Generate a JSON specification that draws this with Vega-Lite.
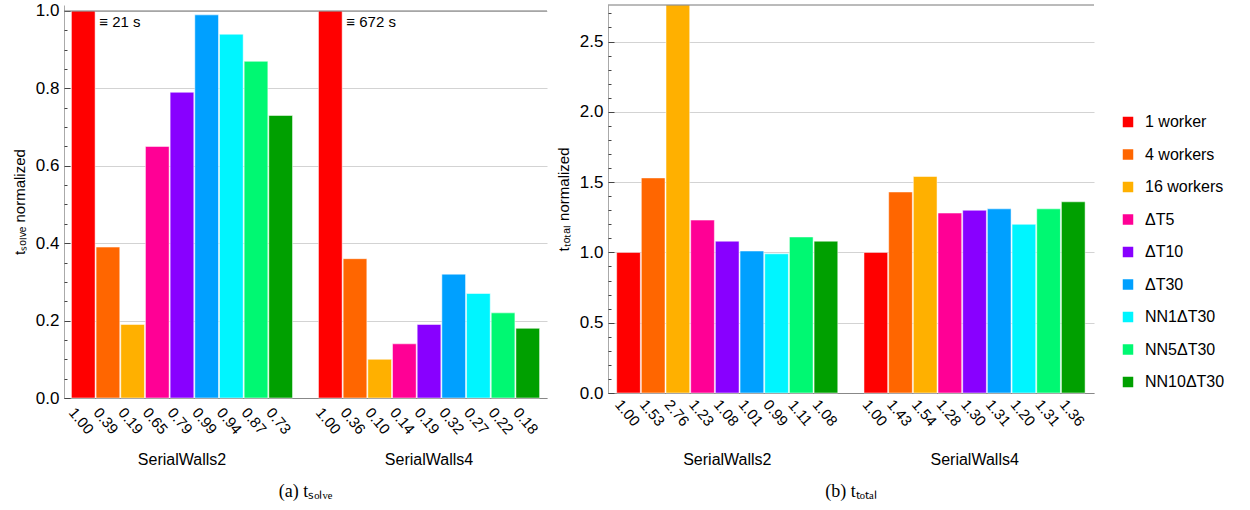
{
  "$schema": "https://vega.github.io/schema/vega-lite/v6.json",
  "background": "white",
  "padding": {"left": 12, "top": 1, "right": 0, "bottom": 0},
  "config": {
    "font": "Liberation Sans",
    "view": {"stroke": null},
    "concat": {"spacing": 8},
    "axis": {"labelColor": "black", "titleColor": "black", "titleFontWeight": "normal"}
  },
  "resolve": {"scale": {"color": "shared"}},
  "hconcat": [
    {
      "width": 483,
      "height": 393,
      "data": {"values": [
        {"case": "SerialWalls2", "config": "1 worker", "t": 1.00},
        {"case": "SerialWalls2", "config": "4 workers", "t": 0.39},
        {"case": "SerialWalls2", "config": "16 workers", "t": 0.19},
        {"case": "SerialWalls2", "config": "ΔT5", "t": 0.65},
        {"case": "SerialWalls2", "config": "ΔT10", "t": 0.79},
        {"case": "SerialWalls2", "config": "ΔT30", "t": 0.99},
        {"case": "SerialWalls2", "config": "NN1ΔT30", "t": 0.94},
        {"case": "SerialWalls2", "config": "NN5ΔT30", "t": 0.87},
        {"case": "SerialWalls2", "config": "NN10ΔT30", "t": 0.73},
        {"case": "SerialWalls4", "config": "1 worker", "t": 1.00},
        {"case": "SerialWalls4", "config": "4 workers", "t": 0.36},
        {"case": "SerialWalls4", "config": "16 workers", "t": 0.10},
        {"case": "SerialWalls4", "config": "ΔT5", "t": 0.14},
        {"case": "SerialWalls4", "config": "ΔT10", "t": 0.19},
        {"case": "SerialWalls4", "config": "ΔT30", "t": 0.32},
        {"case": "SerialWalls4", "config": "NN1ΔT30", "t": 0.27},
        {"case": "SerialWalls4", "config": "NN5ΔT30", "t": 0.22},
        {"case": "SerialWalls4", "config": "NN10ΔT30", "t": 0.18}
      ]},
      "title": {"text": "(a) t\u209b\u2092\u2097\u1d65\u2091", "orient": "bottom", "anchor": "middle", "font": "Liberation Serif", "fontSize": 18, "fontWeight": "normal", "offset": 16, "color": "black"},
      "layer": [
        {
          "layer": [
            {
              "mark": {"type": "bar", "stroke": "white", "strokeWidth": 1, "strokeOpacity": 0.5},
              "encoding": {
                "x": {"field": "case", "type": "nominal", "title": null,
                  "scale": {"paddingInner": 0.105, "paddingOuter": 0.03},
                  "axis": {"labelAngle": 0, "ticks": false, "domainColor": "#888", "labelPadding": 53, "labelFontSize": 16, "labelBaseline": "top"}},
                "xOffset": {"field": "config", "type": "nominal",
                  "scale": {"domain": ["1 worker", "4 workers", "16 workers", "ΔT5", "ΔT10", "ΔT30", "NN1ΔT30", "NN5ΔT30", "NN10ΔT30"], "paddingInner": 0.04, "paddingOuter": 0}},
                "y": {"field": "t", "type": "quantitative",
                  "scale": {"domain": [0, 1.0155], "nice": false, "zero": true},
                  "axis": {"values": [0, 0.2, 0.4, 0.6, 0.8, 1.0], "format": ".1f", "grid": true, "gridColor": "#d3d3d3", "tickSize": -6, "tickColor": "#444", "domainColor": "#aaa", "labelPadding": 11, "labelFontSize": 17, "title": "t\u209b\u2092\u2097\u1d65\u2091 normalized", "titleFontSize": 15, "titlePadding": 7.5}},
                "color": {"field": "config", "type": "nominal",
                  "scale": {"domain": ["1 worker", "4 workers", "16 workers", "ΔT5", "ΔT10", "ΔT30", "NN1ΔT30", "NN5ΔT30", "NN10ΔT30"],
                    "range": ["#ff0000", "#ff6600", "#ffb000", "#ff0095", "#8800ff", "#00a0ff", "#00f5ff", "#00f872", "#00a000"]},
                  "legend": {"orient": "none", "legendX": 1056, "legendY": 109, "title": null, "symbolType": "square", "symbolSize": 144, "labelFontSize": 16, "rowPadding": 14.5, "labelOffset": 9,
                    "encode": {"symbols": {"update": {"stroke": {"value": "rgba(0,0,0,0.35)"}, "strokeWidth": {"value": 1}, "strokeOpacity": {"value": 1}}}}}}
              }
            },
            {
              "mark": {"type": "text", "angle": 50, "align": "center", "baseline": "middle", "dx": 16.3, "dy": 16.3, "fontSize": 15, "color": "black"},
              "encoding": {
                "x": {"field": "case", "type": "nominal"},
                "xOffset": {"field": "config", "type": "nominal"},
                "y": {"datum": 0},
                "text": {"field": "t", "type": "quantitative", "format": ".2f"}
              }
            },
            {
              "data": {"values": [
                {"case": "SerialWalls2", "config": "1 worker", "note": "≡ 21 s"},
                {"case": "SerialWalls4", "config": "1 worker", "note": "≡ 672 s"}
              ]},
              "mark": {"type": "text", "align": "left", "baseline": "middle", "dx": 16, "dy": 11, "fontSize": 15, "color": "black"},
              "encoding": {
                "x": {"field": "case", "type": "nominal"},
                "xOffset": {"field": "config", "type": "nominal"},
                "y": {"datum": 1},
                "text": {"field": "note", "type": "nominal"}
              }
            }
          ]
        },
        {
          "data": {"values": [{"edge": "top"}]},
          "mark": {"type": "rule", "color": "#777", "strokeWidth": 1},
          "encoding": {
            "y": {"datum": 1, "type": "quantitative",
              "scale": {"domain": [0, 1.0155], "nice": false},
              "axis": {"orient": "left", "values": [0, 0.05, 0.1, 0.15, 0.2, 0.25, 0.3, 0.35, 0.4, 0.45, 0.5, 0.55, 0.6, 0.65, 0.7, 0.75, 0.8, 0.85, 0.9, 0.95, 1.0], "labels": false, "grid": false, "domain": false, "tickSize": -3, "tickColor": "#444", "title": null}}
          }
        }
      ],
      "resolve": {"scale": {"y": "independent"}, "axis": {"y": "independent"}}
    },
    {
      "width": 486,
      "height": 388,
      "data": {"values": [
        {"case": "SerialWalls2", "config": "1 worker", "t": 1.00},
        {"case": "SerialWalls2", "config": "4 workers", "t": 1.53},
        {"case": "SerialWalls2", "config": "16 workers", "t": 2.76},
        {"case": "SerialWalls2", "config": "ΔT5", "t": 1.23},
        {"case": "SerialWalls2", "config": "ΔT10", "t": 1.08},
        {"case": "SerialWalls2", "config": "ΔT30", "t": 1.01},
        {"case": "SerialWalls2", "config": "NN1ΔT30", "t": 0.99},
        {"case": "SerialWalls2", "config": "NN5ΔT30", "t": 1.11},
        {"case": "SerialWalls2", "config": "NN10ΔT30", "t": 1.08},
        {"case": "SerialWalls4", "config": "1 worker", "t": 1.00},
        {"case": "SerialWalls4", "config": "4 workers", "t": 1.43},
        {"case": "SerialWalls4", "config": "16 workers", "t": 1.54},
        {"case": "SerialWalls4", "config": "ΔT5", "t": 1.28},
        {"case": "SerialWalls4", "config": "ΔT10", "t": 1.30},
        {"case": "SerialWalls4", "config": "ΔT30", "t": 1.31},
        {"case": "SerialWalls4", "config": "NN1ΔT30", "t": 1.20},
        {"case": "SerialWalls4", "config": "NN5ΔT30", "t": 1.31},
        {"case": "SerialWalls4", "config": "NN10ΔT30", "t": 1.36}
      ]},
      "title": {"text": "(b) t\u209c\u2092\u209c\u2090\u2097", "orient": "bottom", "anchor": "middle", "font": "Liberation Serif", "fontSize": 18, "fontWeight": "normal", "offset": 16, "color": "black"},
      "layer": [
        {
          "layer": [
            {
              "mark": {"type": "bar", "stroke": "white", "strokeWidth": 1, "strokeOpacity": 0.5},
              "encoding": {
                "x": {"field": "case", "type": "nominal", "title": null,
                  "scale": {"paddingInner": 0.105, "paddingOuter": 0.035},
                  "axis": {"labelAngle": 0, "ticks": false, "domainColor": "#888", "labelPadding": 58, "labelFontSize": 16, "labelBaseline": "top"}},
                "xOffset": {"field": "config", "type": "nominal",
                  "scale": {"domain": ["1 worker", "4 workers", "16 workers", "ΔT5", "ΔT10", "ΔT30", "NN1ΔT30", "NN5ΔT30", "NN10ΔT30"], "paddingInner": 0.04, "paddingOuter": 0}},
                "y": {"field": "t", "type": "quantitative",
                  "scale": {"domain": [0, 2.76], "nice": false, "zero": true},
                  "axis": {"values": [0, 0.5, 1.0, 1.5, 2.0, 2.5], "format": ".1f", "grid": true, "gridColor": "#d3d3d3", "tickSize": -6, "tickColor": "#444", "domainColor": "#aaa", "labelPadding": 11, "labelFontSize": 17, "title": "t\u209c\u2092\u209c\u2090\u2097 normalized", "titleFontSize": 15, "titlePadding": 8}},
                "color": {"field": "config", "type": "nominal",
                  "scale": {"domain": ["1 worker", "4 workers", "16 workers", "ΔT5", "ΔT10", "ΔT30", "NN1ΔT30", "NN5ΔT30", "NN10ΔT30"],
                    "range": ["#ff0000", "#ff6600", "#ffb000", "#ff0095", "#8800ff", "#00a0ff", "#00f5ff", "#00f872", "#00a000"]},
                  "legend": {"orient": "none", "legendX": 1056, "legendY": 109, "title": null, "symbolType": "square", "symbolSize": 144, "labelFontSize": 16, "rowPadding": 14.5, "labelOffset": 9,
                    "encode": {"symbols": {"update": {"stroke": {"value": "rgba(0,0,0,0.35)"}, "strokeWidth": {"value": 1}, "strokeOpacity": {"value": 1}}}}}}
              }
            },
            {
              "mark": {"type": "text", "angle": 50, "align": "center", "baseline": "middle", "dx": 14.7, "dy": 13.6, "fontSize": 15, "color": "black"},
              "encoding": {
                "x": {"field": "case", "type": "nominal"},
                "xOffset": {"field": "config", "type": "nominal"},
                "y": {"datum": 0},
                "text": {"field": "t", "type": "quantitative", "format": ".2f"}
              }
            }
          ]
        },
        {
          "data": {"values": [{"edge": "top"}]},
          "mark": {"type": "rule", "color": "#777", "strokeWidth": 1},
          "encoding": {
            "y": {"datum": 2.76, "type": "quantitative",
              "scale": {"domain": [0, 2.76], "nice": false},
              "axis": {"orient": "left", "values": [0, 0.1, 0.2, 0.3, 0.4, 0.5, 0.6, 0.7, 0.8, 0.9, 1.0, 1.1, 1.2, 1.3, 1.4, 1.5, 1.6, 1.7, 1.8, 1.9, 2.0, 2.1, 2.2, 2.3, 2.4, 2.5, 2.6, 2.7], "labels": false, "grid": false, "domain": false, "tickSize": -3, "tickColor": "#444", "title": null}}
          }
        }
      ],
      "resolve": {"scale": {"y": "independent"}, "axis": {"y": "independent"}}
    }
  ]
}
